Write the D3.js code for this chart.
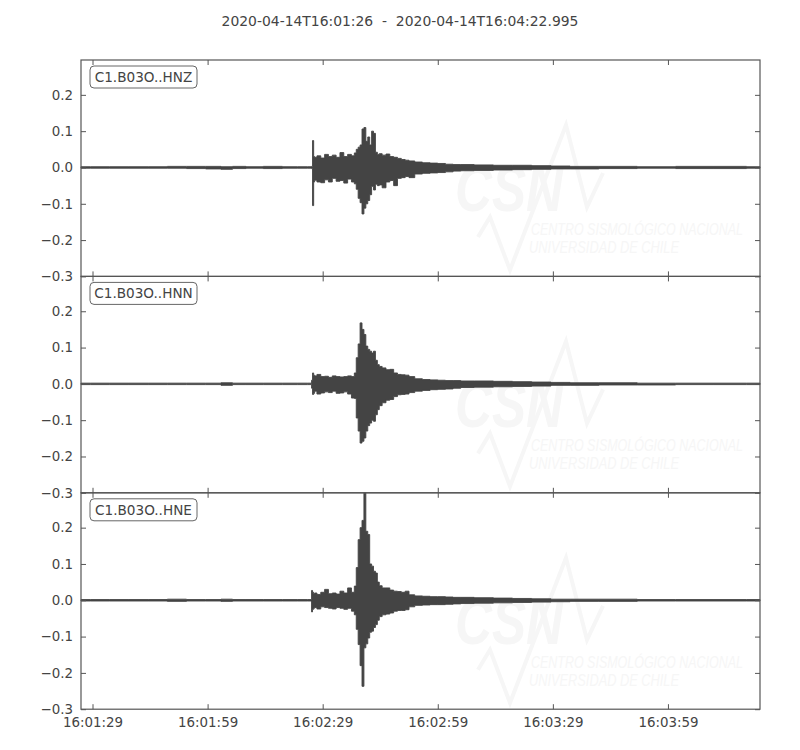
<!DOCTYPE html>
<html>
<head>
<meta charset="utf-8">
<script src="https://cdn.jsdelivr.net/npm/d3@7"></script>
<style>
  body { margin: 0; background: #fff; }
  text { font-family: "DejaVu Sans", sans-serif; }
</style>
</head>
<body>
<div class="chart"></div>
<script>
//Time window and channels
var startTime = "2020-04-14T16:01:26";
var endTime = "2020-04-14T16:04:22.995";
var channels = ["C1.B03O..HNZ", "C1.B03O..HNN", "C1.B03O..HNE"];

//Seconds after start time, envelope
var secs = [0, 5, 10, 15, 20, 25, 30, 35, 38, 41, 45, 50, 55, 58, 60, 60.2, 60.5, 60.8,
  61, 62, 63, 64, 65, 66, 67, 68, 69, 70, 71, 71.5, 72, 72.5, 73, 73.5, 74, 74.5,
  75, 75.5, 76, 76.5, 77, 77.5, 78, 79, 80, 81, 82, 83, 84, 85, 86, 88, 90, 92,
  94, 96, 98, 100, 105, 110, 115, 120, 125, 130, 140, 150, 160, 170, 177];

var hnzHi = [.002, .002, .002, .002, .002, .003, .003, .003, .002, .003, .002, .003, .002, .002, .002, .003, .074, .030,
  .028, .032, .026, .036, .030, .034, .028, .041, .030, .036, .032, .040, .050, .056, .062, .106, .110, .072,
  .084, .062, .100, .094, .042, .036, .038, .034, .037, .030, .028, .025, .022, .020, .018, .015, .013, .012,
  .011, .009, .008, .008, .007, .006, .006, .005, .004, .003, .003, .002, .003, .003, .002];
var hnzLo = [-.002, -.002, -.002, -.002, -.002, -.002, -.003, -.004, -.005, -.003, -.002, -.003, -.002, -.002, -.002, -.003, -.105, -.040,
  -.035, -.040, -.042, -.034, -.040, -.030, -.038, -.036, -.043, -.032, -.040, -.045, -.060, -.085, -.097, -.128, -.112, -.100,
  -.091, -.075, -.052, -.062, -.046, -.050, -.048, -.056, -.040, -.036, -.050, -.030, -.028, -.025, -.028, -.018, -.016, -.015,
  -.014, -.012, -.010, -.009, -.008, -.007, -.006, -.005, -.004, -.004, -.003, -.002, -.003, -.003, -.002];

var hnnHi = [.002, .002, .002, .002, .002, .002, .002, .002, .003, .002, .002, .002, .002, .002, .002, .010, .030, .024,
  .022, .026, .020, .021, .018, .022, .020, .019, .020, .022, .020, .030, .072, .110, .168, .150, .136, .104,
  .095, .090, .085, .090, .065, .053, .048, .044, .039, .040, .030, .026, .025, .024, .020, .014, .012, .011,
  .010, .009, .009, .008, .008, .007, .006, .005, .004, .003, .003, .002, .002, .002, .002];
var hnnLo = [-.002, -.002, -.002, -.002, -.002, -.002, -.002, -.002, -.004, -.002, -.002, -.002, -.002, -.002, -.002, -.012, -.029, -.026,
  -.020, -.028, -.025, -.022, -.024, -.020, -.026, -.025, -.022, -.028, -.039, -.040, -.094, -.130, -.163, -.158, -.149, -.130,
  -.115, -.108, -.100, -.103, -.085, -.071, -.060, -.052, -.045, -.043, -.035, -.030, -.029, -.028, -.024, -.020, -.018, -.016,
  -.015, -.014, -.012, -.010, -.009, -.008, -.007, -.006, -.004, -.004, -.003, -.003, -.002, -.002, -.002];

var hneHi = [.002, .002, .002, .002, .002, .003, .002, .002, .003, .002, .002, .002, .002, .002, .002, .027, .022, .018,
  .020, .016, .022, .030, .018, .020, .017, .025, .020, .034, .022, .039, .090, .167, .200, .220, .295, .190,
  .181, .100, .094, .080, .075, .050, .040, .034, .034, .028, .025, .024, .022, .025, .015, .012, .011, .010,
  .010, .009, .008, .008, .007, .006, .005, .004, .003, .003, .003, .002, .002, .002, .002];
var hneLo = [-.002, -.002, -.002, -.002, -.002, -.003, -.002, -.002, -.003, -.002, -.002, -.002, -.002, -.002, -.002, -.032, -.025, -.022,
  -.020, -.024, -.018, -.020, -.022, -.024, -.020, -.022, -.025, -.022, -.030, -.040, -.080, -.122, -.180, -.237, -.131, -.120,
  -.104, -.088, -.085, -.075, -.067, -.055, -.045, -.040, -.038, -.035, -.030, -.028, -.028, -.026, -.018, -.014, -.013, -.012,
  -.012, -.011, -.010, -.009, -.008, -.007, -.006, -.005, -.004, -.003, -.003, -.002, -.002, -.002, -.002];

var highs = [hnzHi, hnnHi, hneHi];
var lows = [hnzLo, hnnLo, hneLo];

//Tick values
var yTicks = [0.2, 0.1, 0.0, -0.1, -0.2, -0.3];
var xTickLabels = ["16:01:29", "16:01:59", "16:02:29", "16:02:59", "16:03:29", "16:03:59"];

//Width and height
var w = 800;
var h = 750;
var padLeft = 81, padRight = 760, padTop = 60, panelH = 216.4;
var ink = "#444";
var frame = "#555";
var mark = "#f6f6f6";

var svg = d3.select(".chart")
    .append("svg")
    .attr("width", w)
    .attr("height", h);

var t0 = new Date(startTime);
var x = d3.scaleTime()
    .domain([t0, new Date(endTime)])
    .range([padLeft, padRight]);

var xTicks = xTickLabels.map(s => new Date("2020-04-14T" + s));

//Title
svg.append("text")
    .attr("x", w / 2)
    .attr("y", 26)
    .attr("text-anchor", "middle")
    .style("white-space", "pre")
    .attr("font-size", 13.9)
    .attr("fill", ink)
    .text(startTime + "  -  " + endTime);

channels.forEach((name, k) => {
    var y0 = padTop + k * panelH;
    var y = d3.scaleLinear()
        .domain([-0.3, 0.296])
        .range([y0 + panelH, y0]);

    var g = svg.append("g");

    //Watermark
    var wm = g.append("g")
        .attr("transform", "translate(0," + y0 + ")");
    wm.append("path")
        .attr("d", "M478,177 L490,157 L510,210 L566,65 L587,147 L603,113")
        .attr("fill", "none")
        .attr("stroke", mark)
        .attr("stroke-width", 4)
        .attr("stroke-linejoin", "miter");
    wm.append("text")
        .attr("x", 455).attr("y", 151)
        .attr("font-size", 64)
        .attr("font-weight", "bold")
        .attr("font-style", "italic")
        .attr("textLength", 108)
        .attr("lengthAdjust", "spacingAndGlyphs")
        .attr("fill", mark)
        .style("font-family", "'Liberation Sans Narrow', 'Liberation Sans', sans-serif")
        .text("CSN");
    wm.append("text")
        .attr("x", 531).attr("y", 175)
        .attr("font-size", 16)
        .attr("font-style", "italic")
        .attr("textLength", 212)
        .attr("lengthAdjust", "spacingAndGlyphs")
        .attr("fill", mark)
        .style("font-family", "'Liberation Sans Narrow', 'Liberation Sans', sans-serif")
        .text("CENTRO SISMOLÓGICO NACIONAL");
    wm.append("text")
        .attr("x", 529).attr("y", 193)
        .attr("font-size", 16)
        .attr("font-style", "italic")
        .attr("textLength", 150)
        .attr("lengthAdjust", "spacingAndGlyphs")
        .attr("fill", mark)
        .style("font-family", "'Liberation Sans Narrow', 'Liberation Sans', sans-serif")
        .text("UNIVERSIDAD DE CHILE");

    //Trace envelope
    var area = d3.area()
        .curve(d3.curveStep)
        .x((d, i) => x(new Date(t0.getTime() + secs[i] * 1000)))
        .y0((d, i) => y(lows[k][i]))
        .y1((d, i) => y(highs[k][i]));

    g.append("path")
        .datum(secs)
        .attr("d", area)
        .attr("fill", ink)
        .attr("stroke", ink)
        .attr("stroke-width", 0.9)
        .attr("stroke-linejoin", "round");

    //Frame
    g.append("rect")
        .attr("x", padLeft)
        .attr("y", y0)
        .attr("width", padRight - padLeft)
        .attr("height", panelH)
        .attr("fill", "none")
        .attr("stroke", frame)
        .attr("stroke-width", 1.2);

    //Axes with inward ticks
    var yl = g.append("g")
        .attr("transform", "translate(" + padLeft + ",0)")
        .call(d3.axisLeft(y).tickValues(yTicks).tickSize(-5).tickPadding(8)
            .tickFormat(d => d3.format(".1f")(d).replace("-", "\u2212")));
    var yr = g.append("g")
        .attr("transform", "translate(" + padRight + ",0)")
        .call(d3.axisRight(y).tickValues(yTicks).tickSize(-5).tickFormat(""));
    var xt = g.append("g")
        .attr("transform", "translate(0," + y0 + ")")
        .call(d3.axisTop(x).tickValues(xTicks).tickSize(-5).tickFormat(""));
    var xb = g.append("g")
        .attr("transform", "translate(0," + (y0 + panelH) + ")")
        .call(d3.axisBottom(x).tickValues(xTicks).tickSize(-5).tickPadding(8)
            .tickFormat((d, i) => k === 2 ? xTickLabels[i] : ""));

    [yl, yr, xt, xb].forEach(a => {
        a.select(".domain").remove();
        a.selectAll("line").attr("stroke", frame).attr("stroke-width", 1);
        a.selectAll("text")
            .attr("fill", ink)
            .attr("font-size", 13.4)
            .style("font-family", "'DejaVu Sans', sans-serif");
    });

    //Channel label box
    var lab = g.append("g")
        .attr("transform", "translate(" + (padLeft + 9) + "," + (y0 + 6) + ")");
    lab.append("rect")
        .attr("width", 107)
        .attr("height", 22)
        .attr("rx", 4)
        .attr("fill", "#fff")
        .attr("stroke", "#666")
        .attr("stroke-width", 1);
    lab.append("text")
        .attr("x", 53.5)
        .attr("y", 16)
        .attr("text-anchor", "middle")
        .attr("font-size", 13.6)
        .attr("fill", ink)
        .text(name);
});
</script>
</body>
</html>
